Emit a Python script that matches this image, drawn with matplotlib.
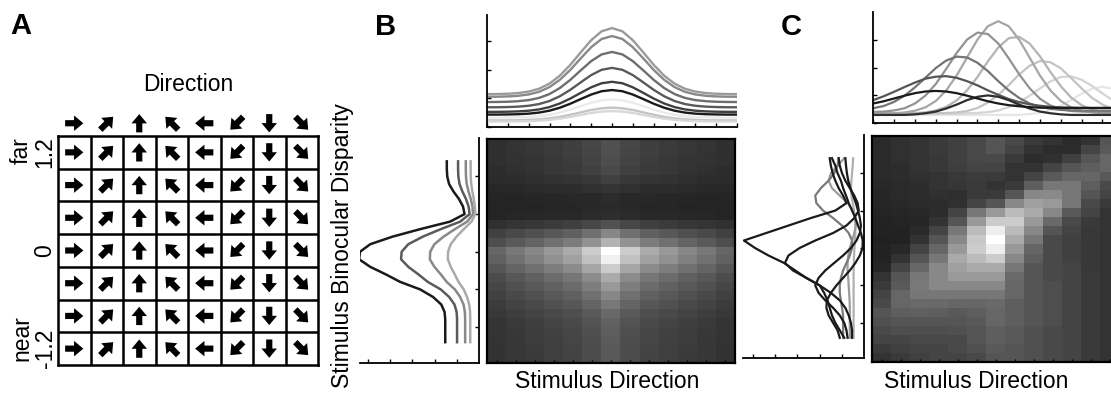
import numpy as np
import matplotlib
matplotlib.use("Agg")
import matplotlib.pyplot as plt

plt.rcParams["font.family"] = ["Liberation Sans", "DejaVu Sans"]

W, H = 1111, 397
FS = 16.5

# ---- panel A: stimulus set
grid_directions = [0, 45, 90, 135, 180, 225, 270, 315]
grid_disparities = [1.2, 0.8, 0.4, 0.0, -0.4, -0.8, -1.2]
grid_tick_values = [1.2, 0.0, -1.2]
grid_tick_labels = ["1.2", "0", "-1.2"]

# ---- shared sampling of the tuning curves
direction_samples = np.arange(-180, 181, 15)
disparity_samples = np.round(np.arange(1.2, -1.25, -0.1), 1)

# ---- panel B: separable tuning
dir_profile_b = [0.33, 0.331, 0.334, 0.341, 0.356, 0.385, 0.437, 0.518, 0.627, 0.754, 0.877, 0.967, 1.0,
                 0.967, 0.877, 0.754, 0.627, 0.518, 0.437, 0.385, 0.356, 0.341, 0.334, 0.331, 0.33]
dir_gains_b = [3.47, 3.19, 2.63, 2.07, 1.58, 1.29, 0.96, 0.67, 0.55]
dir_colors_b = ["#9a9a9a", "#888888", "#6e6e6e", "#5a5a5a", "#404040", "#1a1a1a", "#ebebeb", "#c4c4c4", "#d8d8d8"]

disp_profile_b = [1.45, 1.45, 1.43, 1.35, 1.15, 0.9, 0.72, 0.65, 1.3, 2.65, 3.9, 4.9, 5.36,
                  5.4, 4.9, 4.2, 3.55, 2.65, 2.07, 1.7, 1.55, 1.52, 1.52, 1.52, 1.52]
disp_scales_b = [1.0, 0.65, 0.41, 0.26]
disp_colors_b = ["#1a1a1a", "#5a5a5a", "#888888", "#aaaaaa"]

heat_b_rows = [0.22, 0.21, 0.2, 0.18, 0.14, 0.09, 0.05, 0.04, 0.06, 0.22, 0.46, 0.66, 1.0,
               0.93, 0.77, 0.62, 0.54, 0.46, 0.39, 0.33, 0.29, 0.27, 0.26, 0.25, 0.25]
heat_b_cols = [0.31, 0.39, 0.46, 0.54, 0.62, 0.77, 1.0, 0.77, 0.62, 0.54, 0.46, 0.39, 0.31]

# ---- panel C: inseparable tuning
c_top_1 = [0.35, 0.35, 0.36, 0.39, 0.45, 0.57, 0.80, 1.18, 1.71, 2.36, 3.0, 3.48, 3.66,
           3.48, 3.0, 2.36, 1.71, 1.18, 0.80, 0.57, 0.45, 0.39, 0.36, 0.35, 0.35]
c_top_2 = [0.41, 0.42, 0.46, 0.54, 0.71, 0.99, 1.41, 1.95, 2.52, 3.0, 3.25, 3.2, 2.86,
           2.33, 1.76, 1.26, 0.88, 0.64, 0.51, 0.44, 0.42, 0.41, 0.40, 0.40, 0.40]
c_top_3 = [0.35, 0.35, 0.35, 0.35, 0.36, 0.39, 0.46, 0.59, 0.82, 1.18, 1.66, 2.22, 2.72,
           3.05, 3.10, 2.86, 2.40, 1.84, 1.33, 0.92, 0.65, 0.49, 0.41, 0.37, 0.36]
c_top_4 = [0.54, 0.62, 0.77, 0.99, 1.29, 1.63, 1.98, 2.25, 2.39, 2.36, 2.17, 1.87, 1.51,
           1.18, 0.91, 0.71, 0.59, 0.52, 0.48, 0.46, 0.45, 0.45, 0.45, 0.45, 0.45]
c_top_5 = [0.35, 0.35, 0.35, 0.35, 0.35, 0.35, 0.36, 0.37, 0.39, 0.44, 0.55, 0.74, 1.02,
           1.37, 1.75, 2.06, 2.23, 2.19, 1.97, 1.62, 1.25, 0.91, 0.67, 0.51, 0.42]
c_top_6 = [0.83, 0.97, 1.13, 1.30, 1.46, 1.60, 1.67, 1.69, 1.63, 1.51, 1.36, 1.18, 1.02,
           0.87, 0.76, 0.68, 0.63, 0.59, 0.57, 0.56, 0.55, 0.55, 0.55, 0.55, 0.55]
c_top_7 = [0.35, 0.35, 0.35, 0.35, 0.35, 0.35, 0.35, 0.35, 0.35, 0.36, 0.37, 0.40, 0.46,
           0.58, 0.75, 0.99, 1.25, 1.50, 1.66, 1.68, 1.56, 1.34, 1.07, 0.82, 0.63]
c_top_8 = [0.71, 0.79, 0.89, 0.99, 1.08, 1.14, 1.16, 1.14, 1.08, 0.99, 0.89, 0.79, 0.71,
           0.65, 0.61, 0.58, 0.56, 0.56, 0.55, 0.55, 0.55, 0.55, 0.55, 0.55, 0.55]
c_top_9 = [0.3, 0.3, 0.3, 0.3, 0.3, 0.3, 0.3, 0.3, 0.3, 0.3, 0.3, 0.3, 0.3,
           0.3, 0.3, 0.33, 0.38, 0.47, 0.63, 0.84, 1.06, 1.24, 1.31, 1.24, 1.06]
c_top_10 = [0.3, 0.3, 0.3, 0.3, 0.32, 0.36, 0.42, 0.53, 0.67, 0.83, 0.95, 1.0, 0.95,
            0.83, 0.67, 0.53, 0.42, 0.36, 0.32, 0.3, 0.3, 0.3, 0.3, 0.3, 0.3]
c_top_curves = [c_top_9, c_top_7, c_top_5, c_top_3, c_top_1, c_top_2, c_top_4, c_top_6, c_top_10, c_top_8]
c_top_colors = ["#e6e6e6", "#d4d4d4", "#c4c4c4", "#b4b4b4", "#a6a6a6", "#939393", "#747474", "#555555",
                "#2e2e2e", "#1a1a1a"]

c_side_g3 = [0.5, 0.52, 0.55, 0.58, 0.6, 0.58, 0.52, 0.46, 0.42, 0.4, 0.4, 0.42, 0.44,
             0.46, 0.47, 0.48, 0.48, 0.48, 0.48, 0.48, 0.48, 0.48, 0.48, 0.48, 0.48]
c_side_g2 = [0.9, 1.2, 1.5, 1.6, 1.45, 1.1, 0.75, 0.5, 0.4, 0.38, 0.45, 0.55, 0.65,
             0.72, 0.75, 0.75, 0.72, 0.7, 0.68, 0.66, 0.65, 0.65, 0.65, 0.65, 0.65]
c_side_g1 = [1.15, 1.2, 1.35, 1.6, 1.95, 2.2, 2.15, 1.85, 1.4, 1.0, 0.7, 0.55, 0.55,
             0.65, 0.8, 0.95, 1.05, 1.1, 1.1, 1.05, 1.0, 0.95, 0.95, 0.95, 0.95]
c_side_m4 = [1.45, 1.3, 1.2, 1.05, 0.95, 0.82, 0.7, 0.55, 0.4, 0.28, 0.15, 0.07, 0.08,
             0.2, 0.4, 0.65, 0.95, 1.25, 1.5, 1.68, 1.7, 1.6, 1.4, 1.2, 1.1]
c_side_m3 = [0.85, 0.82, 0.78, 0.72, 0.62, 0.5, 0.38, 0.28, 0.2, 0.15, 0.2, 0.35, 0.6,
             0.95, 1.35, 1.75, 2.05, 2.2, 2.05, 1.75, 1.4, 1.1, 0.9, 0.8, 0.75]
c_side_m2 = [1.15, 1.1, 1.0, 0.85, 0.65, 0.45, 0.3, 0.25, 0.45, 0.8, 1.4, 2.2, 2.9,
             3.4, 3.56, 3.2, 2.6, 2.0, 1.5, 1.1, 0.85, 0.7, 0.6, 0.55, 0.55]
c_side_m1 = [1.55, 1.5, 1.42, 1.3, 1.15, 0.95, 0.8, 1.3, 2.4, 3.4, 4.4, 5.4, 4.9,
             4.3, 3.6, 3.1, 2.6, 2.0, 1.8, 1.65, 1.55, 1.45, 1.3, 1.1, 0.9]
c_side_curves = [c_side_g3, c_side_g2, c_side_g1, c_side_m4, c_side_m3, c_side_m2, c_side_m1]
c_side_colors = ["#b0b0b0", "#9c9c9c", "#7a7a7a", "#1a1a1a", "#1a1a1a", "#1a1a1a", "#1a1a1a"]

# grey level of each cell, rows from far (top) to near (bottom)
heat_c = [
    [42, 48, 51, 58, 64, 72, 85, 74, 58, 51, 42, 51, 85],
    [42, 48, 51, 58, 64, 74, 85, 68, 51, 45, 45, 68, 90],
    [42, 48, 51, 56, 64, 72, 74, 58, 45, 48, 64, 85, 102],
    [42, 45, 51, 56, 62, 68, 68, 51, 51, 68, 85, 94, 102],
    [42, 45, 48, 51, 56, 60, 58, 51, 68, 90, 102, 102, 90],
    [40, 42, 45, 51, 54, 58, 51, 58, 94, 119, 119, 94, 74],
    [38, 42, 45, 48, 46, 58, 58, 85, 136, 138, 119, 85, 68],
    [38, 40, 42, 45, 48, 68, 85, 136, 160, 153, 119, 74, 58],
    [37, 38, 40, 45, 68, 119, 153, 187, 170, 136, 90, 68, 51],
    [34, 37, 38, 51, 85, 153, 204, 204, 153, 106, 74, 58, 51],
    [34, 34, 42, 68, 119, 187, 238, 187, 136, 85, 68, 56, 51],
    [32, 34, 51, 85, 136, 200, 255, 170, 119, 74, 64, 56, 51],
    [34, 40, 68, 102, 153, 204, 238, 153, 102, 74, 64, 56, 51],
    [34, 51, 85, 119, 170, 187, 204, 136, 94, 74, 64, 56, 51],
    [38, 68, 102, 136, 160, 170, 170, 119, 85, 74, 68, 56, 51],
    [51, 85, 119, 136, 153, 153, 153, 106, 85, 74, 68, 58, 51],
    [58, 90, 122, 136, 136, 136, 136, 102, 85, 78, 68, 58, 51],
    [68, 102, 119, 119, 119, 119, 119, 102, 85, 78, 68, 58, 51],
    [74, 102, 106, 106, 102, 102, 106, 94, 85, 78, 68, 58, 51],
    [85, 94, 96, 94, 90, 94, 102, 94, 85, 78, 68, 58, 51],
    [80, 85, 85, 85, 85, 90, 102, 94, 85, 78, 68, 58, 51],
    [74, 78, 78, 78, 80, 85, 94, 90, 80, 74, 68, 58, 51],
    [68, 68, 74, 74, 74, 85, 94, 90, 80, 74, 68, 58, 51],
    [58, 64, 68, 68, 74, 80, 90, 85, 80, 74, 68, 58, 51],
    [51, 58, 64, 68, 68, 74, 85, 85, 80, 74, 68, 58, 51],
]


def px_rect(x0, y0, x1, y1):
    return [x0 / W, 1 - y1 / H, (x1 - x0) / W, (y1 - y0) / H]


def style_top(ax, ymax):
    ax.set_xlim(-180, 180)
    ax.set_ylim(0, ymax)
    ax.spines[["top", "right"]].set_visible(False)
    ax.spines[["left", "bottom"]].set_linewidth(1.3)
    ax.set_xticks(np.arange(-180, 181, 30))
    ax.set_yticks([0, 1, 2, 3])
    ax.tick_params(direction="in", length=3, width=1, labelleft=False, labelbottom=False)


def style_side(ax, xmax):
    ax.set_xlim(xmax, 0)
    ax.set_ylim(-1.47, 1.51)
    ax.spines[["top", "left"]].set_visible(False)
    ax.spines[["right", "bottom"]].set_linewidth(1.3)
    ax.yaxis.tick_right()
    ax.set_yticks([-1, -0.5, 0, 0.5, 1])
    ax.set_xticks([1, 2, 3, 4, 5])
    ax.tick_params(direction="in", length=3, width=1, labelright=False, labelbottom=False)


def style_heat(ax):
    for s in ax.spines.values():
        s.set_linewidth(1.6)
    ax.set_xticks(np.arange(13))
    ax.set_yticks([])
    ax.tick_params(direction="in", length=2.5, width=1, labelbottom=False)


fig = plt.figure(figsize=(W / 100, H / 100), dpi=100)

# ---------------- A
axA = fig.add_axes(px_rect(58, 136, 318, 365))
axA.set_xlim(0, 8)
axA.set_ylim(0, 7)
for k in range(1, 8):
    axA.axvline(k, color="black", lw=1.8)
for k in range(1, 7):
    axA.axhline(k, color="black", lw=1.8)
for s in axA.spines.values():
    s.set_linewidth(1.8)

n_rows, n_cols = len(grid_disparities), len(grid_directions)
col_idx, row_idx = np.meshgrid(np.arange(n_cols), np.arange(n_rows))
theta = np.deg2rad(np.array(grid_directions))[col_idx]
arrow_len = 0.56
quiver_kw = dict(angles="xy", scale_units="xy", scale=1, units="xy", width=0.19,
                 headwidth=2.5, headlength=1.5, headaxislength=1.5, pivot="middle", color="black")
axA.quiver(col_idx + 0.5, n_rows - row_idx - 0.5, arrow_len * np.cos(theta), arrow_len * np.sin(theta),
           **quiver_kw)
head_theta = np.deg2rad(np.array(grid_directions))
axA.quiver(np.arange(n_cols) + 0.5, np.full(n_cols, 7.39), arrow_len * np.cos(head_theta),
           arrow_len * np.sin(head_theta), clip_on=False, **quiver_kw)

tick_pos = [n_rows - grid_disparities.index(v) - 0.5 for v in grid_tick_values]
axA.set_xticks([])
axA.set_yticks(tick_pos)
axA.set_yticklabels(grid_tick_labels, rotation=90, va="center", fontsize=FS)
axA.tick_params(axis="y", length=0, pad=1)
axA.text(4, 8.56, "Direction", ha="center", va="center", fontsize=FS)
axA.text(-1.12, 6.54, "far", rotation=90, ha="center", va="center", fontsize=FS)
axA.text(-1.12, 0.83, "near", rotation=90, ha="center", va="center", fontsize=FS)

# ---------------- B
axBm = fig.add_axes(px_rect(360, 138, 479, 362.5))
for scale, color in zip(disp_scales_b, disp_colors_b):
    axBm.plot(np.array(disp_profile_b) * scale, disparity_samples, color=color, lw=1.8)
style_side(axBm, 5.36)

axBh = fig.add_axes(px_rect(487, 139, 735, 363))
axBh.imshow(np.outer(heat_b_rows, heat_b_cols), cmap="gray", vmin=-0.15, vmax=1.0,
            aspect="auto", interpolation="nearest")
style_heat(axBh)

axBt = fig.add_axes(px_rect(487, 15, 737, 126.7))
for gain, color in zip(dir_gains_b, dir_colors_b):
    axBt.plot(direction_samples, np.array(dir_profile_b) * gain, color=color, lw=1.7)
style_top(axBt, 3.93)

# ---------------- C
axCm = fig.add_axes(px_rect(743, 135, 864.3, 358))
for curve, color in zip(c_side_curves, c_side_colors):
    axCm.plot(curve, disparity_samples, color=color, lw=1.6)
style_side(axCm, 5.44)

axCh = fig.add_axes(px_rect(872, 136, 1119, 362))
axCh.imshow(np.array(heat_c), cmap="gray", vmin=0, vmax=255, aspect="auto", interpolation="nearest")
style_heat(axCh)

axCt = fig.add_axes(px_rect(873.3, 11.7, 1123.3, 123.3))
for curve, color in zip(c_top_curves, c_top_colors):
    axCt.plot(direction_samples, curve, color=color, lw=1.6)
style_top(axCt, 4.0)

# ---------------- labels
fig.text(343 / W, 1 - 246 / H, "Stimulus Binocular Disparity", rotation=90, ha="center", va="center",
         fontsize=FS)
fig.text(607 / W, 1 - 381 / H, "Stimulus Direction", ha="center", va="center", fontsize=FS)
fig.text(976 / W, 1 - 381 / H, "Stimulus Direction", ha="center", va="center", fontsize=FS)
for letter, x, y in [("A", 21, 26), ("B", 386, 27), ("C", 791, 27)]:
    fig.text(x / W, 1 - y / H, letter, ha="center", va="center", fontsize=21, fontweight="bold")

fig.savefig("out.png", dpi=100)
